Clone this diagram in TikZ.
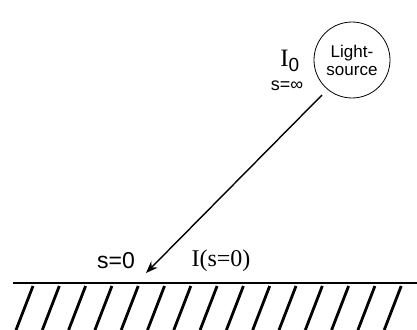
\documentclass[tikz,border=0pt]{standalone}
\usepackage{fontspec}
\setmainfont{Liberation Serif}
\setsansfont{Liberation Sans}
\usetikzlibrary{arrows.meta}
\begin{document}
\begin{tikzpicture}[x=1pt,y=-1pt,
  hatch/.style={line width=2.8pt},
  ground/.style={line width=2.8pt},
  ray/.style={line width=1.4pt,-{Stealth[length=12pt,width=9pt]}}]
\useasboundingbox (0,0) rectangle (417,329);
\node[draw,circle,minimum size=76pt,inner sep=0pt,line width=0.8pt,align=center,font=\sffamily\fontsize{17}{18}\selectfont] (src) at (352,60) {Light-\\source};
\node[font=\fontsize{25}{27}\selectfont] (i0) at (290,61) {I\textsubscript{\sffamily\fontsize{19}{20}\selectfont 0}};
\node[font=\sffamily\fontsize{18}{20}\selectfont] (sinf) at (287,86) {s=∞};
\coordinate (rs) at (322,95);
\coordinate (re) at (146,273);
\draw[ray] (rs) -- (re);
\node[font=\sffamily\fontsize{23}{25}\selectfont] (s0) at (116,261) {s=0};
\node[font=\fontsize{24}{26}\selectfont] (is0) at (221,261) {I(s=0)};
\coordinate (gl) at (13,283);
\coordinate (gr) at (417,283);
\draw[ground] (gl) -- (gr);
\foreach \k in {0,...,14} {
  \draw[hatch] ({33+26.3*\k},286) -- ({16+26.3*\k},330);
}
\end{tikzpicture}
\end{document}
